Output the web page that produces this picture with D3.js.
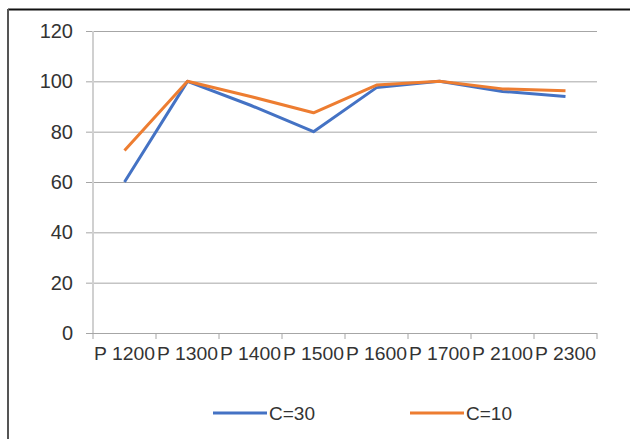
<!DOCTYPE html>
<html><head><meta charset="utf-8">
<script src="https://cdn.jsdelivr.net/npm/d3@7"></script>
<style>body{margin:0;background:#fff;}svg{display:block;}</style>
</head><body>
<svg id="c" width="630" height="439"></svg>
<script>
const categories = ["P 1200","P 1300","P 1400","P 1500","P 1600","P 1700","P 2100","P 2300"];
const c30 = [60, 100, 90.5, 80, 97.5, 100, 96, 94];
const c10 = [72.5, 100, 94, 87.5, 98.5, 100, 97, 96.3];
const yTicks = [0, 20, 40, 60, 80, 100, 120];
const seriesNames = ["C=30", "C=10"];
const colors = ["#4472C4", "#ED7D31"];

const svg = d3.select("#c");
const font = "'Liberation Sans', Arial, sans-serif";

// frame
svg.append("line").attr("x1",8).attr("x2",630).attr("y1",9.5).attr("y2",9.5).attr("stroke","#111").attr("stroke-width",2);
svg.append("line").attr("x1",8).attr("x2",8).attr("y1",9).attr("y2",439).attr("stroke","#555").attr("stroke-width",2);

const x = d3.scaleBand().domain(categories).range([93, 597]);
const y = d3.scaleLinear().domain([0,120]).range([333, 31]);

// gridlines
svg.append("g").selectAll("line").data(yTicks.filter(d=>d>0)).join("line")
  .attr("x1",86).attr("x2",597).attr("y1",d=>y(d)+0.5).attr("y2",d=>y(d)+0.5)
  .attr("stroke","#a6a6a6").attr("stroke-width",1);

// y axis vertical line
svg.append("line").attr("x1",93).attr("x2",93).attr("y1",y(120)).attr("y2",y(0))
  .attr("stroke","#d0d0d0").attr("stroke-width",2);

// x axis
const xAxis = d3.axisBottom(x).tickSize(0).tickFormat(d=>d);
const gx = svg.append("g").attr("transform",`translate(0,${y(0)+0.5})`).call(xAxis);
gx.select(".domain").remove();
gx.selectAll("text").attr("font-family",font).attr("font-size",18).attr("fill","#333").attr("dy","0.5em").attr("y",17)
  .attr("textLength",61).attr("lengthAdjust","spacingAndGlyphs");
svg.append("line").attr("x1",86).attr("x2",597).attr("y1",y(0)+0.5).attr("y2",y(0)+0.5).attr("stroke","#a6a6a6");
const bounds = [...categories.map(c=>x(c)), x.range()[1]];
svg.append("g").selectAll("line").data(bounds).join("line")
  .attr("x1",d=>d).attr("x2",d=>d).attr("y1",y(0)).attr("y2",y(0)+6).attr("stroke","#a6a6a6");

// y labels
const yAxis = d3.axisLeft(y).tickValues(yTicks).tickSize(0).tickPadding(0);
const gy = svg.append("g").attr("transform","translate(73,0)").call(yAxis);
gy.select(".domain").remove();
gy.selectAll("text").attr("font-family",font).attr("font-size",20).attr("fill","#333");

// lines
const line = d3.line().x((d,i)=>x(categories[i])+x.bandwidth()/2).y(d=>y(d));
[c30, c10].forEach((s,i)=>{
  svg.append("path").datum(s).attr("d",line).attr("fill","none")
    .attr("stroke",colors[i]).attr("stroke-width",3).attr("stroke-linejoin","round");
});

// legend
const legX = [213, 410];
seriesNames.forEach((n,i)=>{
  svg.append("line").attr("x1",legX[i]).attr("x2",legX[i]+54).attr("y1",413).attr("y2",413)
    .attr("stroke",colors[i]).attr("stroke-width",3);
  svg.append("text").attr("x",legX[i]+56).attr("y",413).attr("dy","0.36em")
    .attr("font-family",font).attr("font-size",19).attr("fill","#333").text(n);
});
</script>
</body></html>
